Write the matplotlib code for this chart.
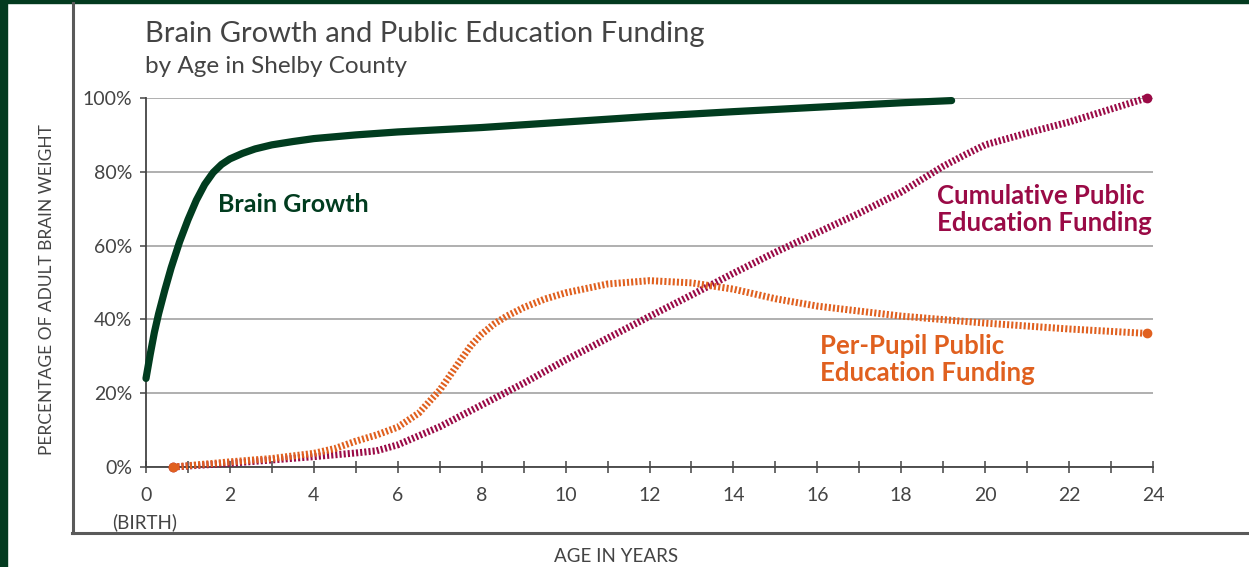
import matplotlib
matplotlib.use('Agg')
from matplotlib import pyplot as plt
from matplotlib.lines import Line2D
from matplotlib.ticker import MultipleLocator

plt.rcParams['font.family'] = ['Lato', 'DejaVu Sans']

# values (age in years, % of adult brain weight)
brain_age = [0, 0.1, 0.2, 0.3, 0.45, 0.6, 0.8, 1.0, 1.2, 1.4, 1.6, 1.8, 2.0, 2.3, 2.6, 3.0, 3.5,
             4, 5, 6, 8, 10, 12, 14, 16, 18, 19.2]
brain_pct = [24, 30.5, 36.5, 41.5, 48, 54, 61, 67, 72.3, 76.6, 79.8, 82, 83.5, 85, 86.2, 87.3,
             88.2, 89, 90, 90.8, 92, 93.5, 95, 96.3, 97.5, 98.7, 99.3]

cum_age = [0.65, 2, 3, 4, 5, 5.5, 6, 7, 8, 9, 10, 11, 12, 13, 14, 15, 16, 17, 18, 18.5, 19,
           19.5, 20, 21, 22, 23, 23.85]
cum_pct = [0, 1, 1.9, 2.8, 3.8, 4.4, 6, 10.9, 16.8, 22.7, 29, 34.9, 40.8, 46.6, 52.5, 58.2, 63.5,
           68.8, 74.5, 78, 81.5, 84.5, 87.3, 90.5, 93.5, 97, 100]

pp_age = [0.65, 2, 3, 4, 4.5, 5, 5.5, 6, 6.5, 7, 7.5, 7.75, 8, 8.3, 8.6, 9, 9.5, 10, 11, 12, 13,
          14, 15, 16, 18, 20, 22, 23.85]
pp_pct = [0, 1.4, 2.3, 3.7, 5, 7, 8.7, 10.8, 14.6, 20.8, 29, 33, 36, 38.8, 40.9, 43.2, 45.5, 47.2,
          49.6, 50.5, 49.9, 48.2, 45.6, 43.6, 40.9, 39, 37.4, 36.2]

x_ticks = [0, 2, 4, 6, 8, 10, 12, 14, 16, 18, 20, 22, 24]
y_ticks = [0, 20, 40, 60, 80, 100]

green = '#013c1f'
crimson = '#9a0a46'
orange = '#e0601f'
text_gray = '#444444'

W, H = 1249, 567
fig = plt.figure(figsize=(W / 100, H / 100), dpi=100)
fig.patch.set_facecolor('white')


def fx(px):
    return px / W


def fy(py):
    return 1 - py / H


# dark green border + gray inner frame
fig.add_artist(plt.Rectangle((0, 0), fx(7), 1, transform=fig.transFigure,
                             color='#033a1f', zorder=0))
fig.add_artist(plt.Rectangle((0, fy(3)), 1, 3 / H, transform=fig.transFigure,
                             color='#033a1f', zorder=0))
fig.add_artist(Line2D([fx(73), fx(73)], [fy(3), fy(533)], transform=fig.transFigure,
                      color='#5a5a5a', lw=2.2))
fig.add_artist(Line2D([fx(72), 1], [fy(533), fy(533)], transform=fig.transFigure,
                      color='#5a5a5a', lw=2.2))

ax = fig.add_axes([fx(146), fy(467), fx(1153) - fx(146), fy(98) - fy(467)])
ax.set_xlim(0, 24)
ax.set_ylim(0, 100)

for s in ['top', 'right']:
    ax.spines[s].set_visible(False)
for s in ['left', 'bottom']:
    ax.spines[s].set_color('#444444')
    ax.spines[s].set_linewidth(1.3)

ax.yaxis.grid(True, color='#9a9a9a', lw=1.1)
ax.set_axisbelow(True)
ax.set_yticks(y_ticks)
ax.set_yticklabels(['{}%'.format(v) for v in y_ticks])
ax.set_xticks(x_ticks)
ax.set_xticklabels([str(v) for v in x_ticks])
ax.xaxis.set_minor_locator(MultipleLocator(1))
ax.tick_params(axis='y', length=4, width=1.1, color='#444444', labelsize=14,
               labelcolor=text_gray, pad=6)
ax.tick_params(axis='x', which='both', direction='inout', length=9, width=1.1,
               color='#444444', labelsize=14, labelcolor=text_gray, pad=10)

ax.plot(brain_age, brain_pct, color=green, lw=5.2, solid_capstyle='round',
        solid_joinstyle='round', clip_on=False, zorder=5)
ax.plot(cum_age, cum_pct, color=crimson, lw=5, linestyle=(0, (0.3, 0.3)),
        dash_capstyle='butt', clip_on=False, zorder=3)
ax.plot(pp_age, pp_pct, color=orange, lw=5, linestyle=(0, (0.3, 0.3)),
        dash_capstyle='butt', clip_on=False, zorder=4)
ax.plot([cum_age[0], cum_age[-1]], [cum_pct[0], cum_pct[-1]], 'o', color=crimson, ms=6,
        clip_on=False, zorder=3)
ax.plot([pp_age[0], pp_age[-1]], [pp_pct[0], pp_pct[-1]], 'o', color=orange, ms=6,
        clip_on=False, zorder=4)

label_kw = dict(fontsize=18.5, fontweight='bold', ha='left', va='baseline')
fig.text(fx(218), fy(211.7), 'Brain Growth', color=green, **dict(label_kw, fontsize=18))
fig.text(fx(937), fy(204), 'Cumulative Public', color=crimson, **label_kw)
fig.text(fx(937), fy(231), 'Education Funding', color=crimson, **label_kw)
fig.text(fx(820), fy(354), 'Per-Pupil Public', color=orange, **label_kw)
fig.text(fx(820), fy(381), 'Education Funding', color=orange, **label_kw)

fig.text(fx(145), fy(41.7), 'Brain Growth and Public Education Funding', fontsize=21,
         color=text_gray, va='baseline', ha='left')
fig.text(fx(145), fy(73.3), 'by Age in Shelby County', fontsize=17.5, color=text_gray,
         va='baseline', ha='left')
fig.text(fx(145), fy(528), '(BIRTH)', fontsize=13.5, color=text_gray, ha='center',
         va='baseline')
fig.text(fx(616), fy(562), 'AGE IN YEARS', fontsize=13.5, color=text_gray, ha='center',
         va='baseline')
fig.text(fx(47), fy(290), 'PERCENTAGE OF ADULT BRAIN WEIGHT', fontsize=12.5,
         color=text_gray, rotation=90, ha='center', va='center')

fig.savefig('out.png', dpi=100)
